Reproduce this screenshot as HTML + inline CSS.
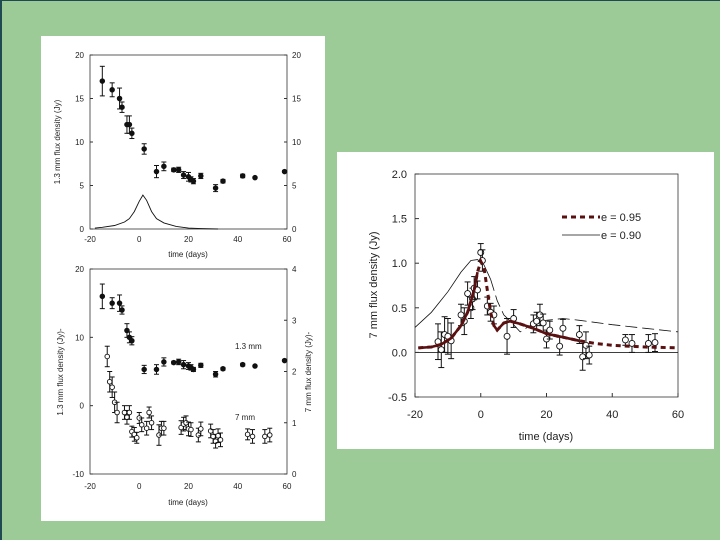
<!DOCTYPE html>
<html><head><meta charset="utf-8">
<style>
html,body{margin:0;padding:0;}
body{width:720px;height:540px;background:#9ccb98;position:relative;overflow:hidden;font-family:"Liberation Sans",sans-serif;}
#edge-left{position:absolute;left:0;top:0;width:2px;height:540px;background:#1f4a52;}
#edge-top{position:absolute;left:0;top:0;width:720px;height:1px;background:#1f4a52;}
svg{position:absolute;left:0;top:0;}
</style></head>
<body>
<div id="edge-left"></div>
<div id="edge-top"></div>
<svg id="s" width="720" height="540">
<rect x="41" y="36" width="284" height="485" fill="#fff"/>
<rect x="337" y="152" width="377" height="297" fill="#fff"/>
</svg>
<script>
// ---- Chart 1 data ----
const c1X=[-15,-11,-8,-7,-5,-4,-3,2,7,10,14,16,18,20,21,22,25,31,34,42,47,59];
const c1Y=[17,16,15,14,12,12,11,9.2,6.6,7.2,6.8,6.8,6.2,6.0,5.7,5.5,6.1,4.7,5.5,6.1,5.9,6.6];
const c1E=[1.7,0.8,1.2,0.6,1,1,0.6,0.6,0.7,0.5,0.2,0.3,0.4,0.5,0.3,0.3,0.3,0.4,0.2,0.2,0.1,0.1];
const c1CurveX=[-18,-15,-10,-6,-4,-2,0,1.5,3,5,7,10,15,20,25,32];
const c1CurveY=[0.1,0.2,0.4,0.8,1.2,2,3.2,3.9,3.3,2,1.2,0.7,0.3,0.1,0.05,0];
const c1Ticks=[0,5,10,15,20];
const xTicks=[-20,0,20,40,60];
// ---- Chart 2 data ----
const c2X=[-15,-11,-8,-7,-5,-4,-3,2,7,10,14,16,18,20,21,22,25,31,34,42,47,59];
const c2Y=[16,15,15,14,11,10,9.5,5.3,5.3,6.4,6.3,6.4,6,5.8,5.6,5.3,5.9,4.6,5.4,6,5.8,6.6];
const c2E=[1.8,0.8,1.2,0.6,1,0.8,0.6,0.6,0.7,0.6,0.2,0.4,0.6,0.5,0.4,0.3,0.3,0.4,0.2,0.2,0.1,0.1];
const c2oX=[-13,-12,-11,-10,-9,-6,-5,-4,-3,-2,-1,0,1,3,4,5,8,9,10,17,18,19,20,21,24,25,29,30,31,32,33,44,46,51,53];
const c2oY=[7.2,3.5,2.7,0.5,-1,-1,-1.7,-1,-3.8,-4.2,-4.7,-1.8,-2.8,-3.3,-1,-2.5,-4.3,-3.3,-3.3,-3.2,-2.7,-2.5,-3.4,-3.5,-4.3,-3.4,-3.7,-4.5,-5.2,-4.4,-5,-4.2,-4.5,-4.5,-4.3];
const c2oE=[1.5,1.5,1.5,1.5,1.5,1,1,1,0.8,1,0.8,0.8,1,1,0.8,1,1.5,1,1,1,1,1,1,1,1,1,1,1,1,1,1,0.8,1,1,1];
const c2LeftTicks=[-10,0,10,20];
const c2RightTicks=[0,1,2,3,4];
// ---- Chart 3 data ----
const c3X=[-13,-12,-11,-10,-9,-6,-5,-4,-3,-2.5,-2,-1,0,0.5,2,3,4,8,10,16,17,18,19,20,21,24,25,30,31,32,33,44,46,51,53];
const c3Y=[0.12,0.03,0.2,0.18,0.13,0.42,0.35,0.66,0.5,0.6,0.72,0.7,1.12,1.03,0.52,0.45,0.42,0.18,0.38,0.32,0.35,0.42,0.33,0.15,0.25,0.07,0.27,0.2,-0.05,0.08,-0.03,0.14,0.1,0.1,0.11];
const c3E=[0.2,0.2,0.2,0.2,0.2,0.12,0.15,0.13,0.12,0.12,0.13,0.1,0.1,0.12,0.1,0.1,0.1,0.2,0.1,0.1,0.1,0.12,0.1,0.1,0.1,0.1,0.1,0.1,0.15,0.15,0.1,0.06,0.1,0.1,0.1];
const m95X=[-19,-15,-12,-9,-6,-4,-2,-1,0,1,2,3,4,5,7,9,12,16,20,25,30,35,40,50,60];
const m95Y=[0.05,0.06,0.09,0.16,0.3,0.45,0.7,0.9,1.02,0.95,0.7,0.45,0.3,0.25,0.33,0.35,0.32,0.27,0.21,0.17,0.13,0.1,0.08,0.06,0.05];
const m90X=[-20,-15,-10,-6,-3,-1,1,3,5,7,9,12,15,20,25,30,40,50,60];
const m90Y=[0.28,0.45,0.68,0.9,1.03,1.04,0.98,0.82,0.58,0.42,0.35,0.23,0.3,0.36,0.38,0.36,0.31,0.27,0.23];
const c3Ticks=[-0.5,0,0.5,1,1.5,2];
const c3TickLabels=["-0.5","0.0","0.5","1.0","1.5","2.0"];

const svg=document.getElementById('s');
const NS='http://www.w3.org/2000/svg';
function mk(tag,attrs,parent){const e=document.createElementNS(NS,tag);for(const k in attrs)e.setAttribute(k,attrs[k]);(parent||svg).appendChild(e);return e;}
function txt(x,y,s,size,anchor,name,rot){const t=mk('text',{x:x,y:y,'font-size':size,'text-anchor':anchor||'middle',fill:'#222','font-family':'Liberation Sans, sans-serif'});if(rot)t.setAttribute('transform','rotate(-90 '+x+' '+y+')');t.textContent=s;return t;}
function scale(d0,d1,p0,p1){return v=>p0+(v-d0)*(p1-p0)/(d1-d0);}
function frame(x0,y0,x1,y1,name){const r=mk('rect',{x:x0,y:y0,width:x1-x0,height:y1-y0,fill:'none',stroke:'#333','stroke-width':0.8});}
function errPt(px,py,pe1,pe2,open,r,cap,name){
  const g=mk('g',{});
  mk('line',{x1:px,x2:px,y1:pe1,y2:pe2,stroke:'#111','stroke-width':1},g);
  mk('line',{x1:px-cap,x2:px+cap,y1:pe1,y2:pe1,stroke:'#111','stroke-width':1},g);
  mk('line',{x1:px-cap,x2:px+cap,y1:pe2,y2:pe2,stroke:'#111','stroke-width':1},g);
  mk('circle',{cx:px,cy:py,r:r,fill:open?'#fff':'#111',stroke:'#111','stroke-width':0.9},g);
}
function poly(xs,ys,sx,sy,attrs,name,filt){let d='';xs.forEach((x,i)=>{if(filt&&!filt(x))return;d+=(d?'L':'M')+sx(x).toFixed(1)+','+sy(ys[i]).toFixed(1);});const p=mk('path',Object.assign({d:d,fill:'none'},attrs));return p;}

// Chart 1
(function(){
 const sx=scale(-20,60,90,287), sy=scale(0,20,229,55);
 frame(90,55,287,229,'chart1-plot-area');
 c1Ticks.forEach(v=>{mk('line',{x1:90,x2:93,y1:sy(v),y2:sy(v),stroke:'#333'});mk('line',{x1:284,x2:287,y1:sy(v),y2:sy(v),stroke:'#333'});
  txt(84,sy(v)+3,String(v),8,'end','chart1-y-tick');txt(292,sy(v)+3,String(v),8,'start','chart1-y2-tick');});
 xTicks.forEach(v=>{txt(sx(v),242,String(v),8,'middle','chart1-x-tick');});
 txt(188,257,'time (days)',8,'middle','chart1-x-title');
 txt(60,142,'1.3 mm flux density (Jy)',8,'middle','chart1-y-title',true);
 poly(c1CurveX,c1CurveY,sx,sy,{stroke:'#111','stroke-width':0.9},'chart1-model-curve');
 c1X.forEach((x,i)=>errPt(sx(x),sy(c1Y[i]),sy(c1Y[i]+c1E[i]),sy(c1Y[i]-c1E[i]),false,2.3,2.5,'chart1-point'));
})();
// Chart 2
(function(){
 const sx=scale(-20,60,90,287), sy=scale(-10,20,474,269), sy2=scale(0,4,474,269);
 frame(90,269,287,474,'chart2-plot-area');
 c2LeftTicks.forEach(v=>{mk('line',{x1:90,x2:93,y1:sy(v),y2:sy(v),stroke:'#333'});txt(84,sy(v)+3,String(v),8,'end','chart2-y-tick');});
 c2RightTicks.forEach(v=>{mk('line',{x1:284,x2:287,y1:sy2(v),y2:sy2(v),stroke:'#333'});txt(292,sy2(v)+3,String(v),8,'start','chart2-y2-tick');});
 xTicks.forEach(v=>{txt(sx(v),489,String(v),8,'middle','chart2-x-tick');});
 txt(188,505,'time (days)',8,'middle','chart2-x-title');
 txt(63,372,'1.3 mm flux density (Jy)-',8,'middle','chart2-y-title',true);
 txt(311,372,'7 mm flux density (Jy)-',8,'middle','chart2-y2-title',true);
 txt(235,349,'1.3  mm',8,'start','label-1-3mm');
 txt(235,420,'7 mm',8,'start','label-7mm');
 c2X.forEach((x,i)=>errPt(sx(x),sy(c2Y[i]),sy(c2Y[i]+c2E[i]),sy(c2Y[i]-c2E[i]),false,2.3,2.5,'chart2-point-1-3mm'));
 c2oX.forEach((x,i)=>errPt(sx(x),sy(c2oY[i]),sy(c2oY[i]+c2oE[i]),sy(c2oY[i]-c2oE[i]),true,2.3,2.5,'chart2-point-7mm'));
})();
// Chart 3
(function(){
 const sx=scale(-20,60,415,678), sy=scale(-0.5,2,397,174);
 frame(415,174,678,397,'chart3-plot-area');
 mk('line',{x1:415,x2:678,y1:sy(0),y2:sy(0),stroke:'#222','stroke-width':0.9});
 c3Ticks.forEach((v,i)=>{mk('line',{x1:415,x2:419,y1:sy(v),y2:sy(v),stroke:'#333'});txt(407,sy(v)+4,c3TickLabels[i],11,'end','chart3-y-tick');});
 xTicks.forEach(v=>{mk('line',{x1:sx(v),x2:sx(v),y1:397,y2:393,stroke:'#333'});txt(sx(v),418,String(v),11,'middle','chart3-x-tick');});
 txt(546,440,'time (days)',11,'middle','chart3-x-title');
 txt(377,285,'7 mm flux density (Jy)',11,'middle','chart3-y-title',true);
 poly(m90X,m90Y,sx,sy,{stroke:'#111','stroke-width':0.8},'model-e090-solid',x=>x<=3);
 poly(m90X,m90Y,sx,sy,{stroke:'#111','stroke-width':0.8,'stroke-dasharray':'12 5'},'model-e090-dashed',x=>x>=3);
 c3X.forEach((x,i)=>errPt(sx(x),sy(c3Y[i]),sy(c3Y[i]+c3E[i]),sy(c3Y[i]-c3E[i]),true,3,3,'chart3-point'));
 poly(m95X,m95Y,sx,sy,{stroke:'#5a1010','stroke-width':3,'stroke-dasharray':'5 4'},'model-e095-dashed');
 poly(m95X,m95Y,sx,sy,{stroke:'#5a1010','stroke-width':2.6},'model-e095-solid-rise',x=>x<=-1);
 poly(m95X,m95Y,sx,sy,{stroke:'#5a1010','stroke-width':2.6},'model-e095-solid-tail',x=>x>=4&&x<=30);
 mk('line',{x1:562,x2:600,y1:217,y2:217,stroke:'#5a1010','stroke-width':3,'stroke-dasharray':'5 4'});
 txt(601,221,'e = 0.95',11,'start','legend-e095-label');
 mk('line',{x1:562,x2:600,y1:235,y2:235,stroke:'#111','stroke-width':0.8});
 txt(601,239,'e = 0.90',11,'start','legend-e090-label');
})();
</script>
</body></html>
